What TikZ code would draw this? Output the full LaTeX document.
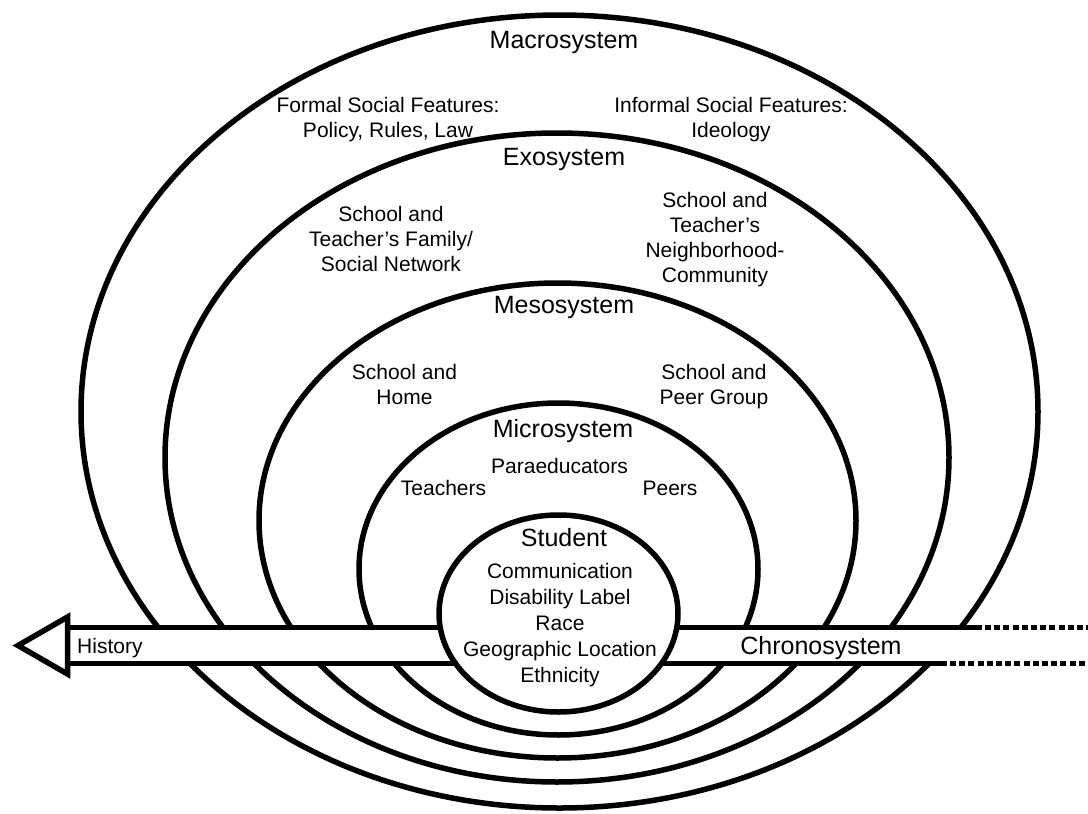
\documentclass[tikz,border=0pt]{standalone}
\usepackage{fontspec}
\setmainfont{Liberation Sans}
\usetikzlibrary{shapes.geometric}
\begin{document}
\begin{tikzpicture}[x=1pt,y=-1pt,
  ring/.style={draw, ellipse, line width=5.5pt, inner sep=0pt, outer sep=0pt},
  head/.style={font=\fontsize{25}{30}\selectfont, anchor=base, inner sep=0pt},
  lbl/.style={font=\fontsize{21}{25}\selectfont, align=center, anchor=base, inner sep=0pt},
  bandline/.style={line width=5pt},
  dashline/.style={line width=5pt, dash pattern=on 6pt off 3.2pt}]
\fill[white] (0,0) rectangle (1088,814);
\useasboundingbox (0,0) rectangle (1088,814);
% system rings
\node[ring, minimum width=957pt, minimum height=793pt] (macro) at (559.5,411.5) {};
\node[ring, minimum width=784pt, minimum height=649pt] (exo) at (557,457.5) {};
\node[ring, minimum width=597pt, minimum height=475pt] (meso) at (557.5,520.5) {};
\node[ring, minimum width=399pt, minimum height=332pt] (micro) at (558.5,569) {};
% chronosystem band
\coordinate (bandUL) at (67.5,627);
\coordinate (bandLL) at (67.5,663);
\coordinate (bandUR) at (982,627);
\coordinate (bandLR) at (947,663);
\coordinate (dashUS) at (985,627);
\coordinate (dashLS) at (950,663);
\coordinate (dashUE) at (1088,627);
\coordinate (dashLE) at (1088,663);
\fill[white] (bandUL) rectangle (dashLE);
\draw[bandline] (bandUL) -- (bandUR);
\draw[bandline] (bandLL) -- (bandLR);
\draw[dashline] (dashUS) -- (dashUE);
\draw[dashline] (dashLS) -- (dashLE);
% student
\node[ring, fill=white, minimum width=239pt, minimum height=197pt] (student) at (558.5,613.5) {};
% arrow head
\coordinate (tip) at (18,645.5);
\coordinate (backT) at (67.5,617);
\coordinate (backB) at (67.5,674);
\draw[line width=5.5pt, fill=white, line join=miter] (tip) -- (backT) -- (backB) -- cycle;
% texts (multi-line nodes: base = baseline of last line)
\node[head] (tmacro) at (564,48) {Macrosystem};
\node[lbl] (formal) at (388,137) {Formal Social Features:\\Policy, Rules, Law};
\node[lbl] (informal) at (731,137) {Informal Social Features:\\Ideology};
\node[head] (texo) at (564,165) {Exosystem};
\node[lbl] (family) at (391,271) {School and\\Teacher’s Family/\\Social Network};
\node[lbl] (neigh) at (715,282) {School and\\Teacher’s\\Neighborhood-\\Community};
\node[head] (tmeso) at (564,313) {Mesosystem};
\node[lbl] (home) at (404.5,404) {School and\\Home};
\node[lbl] (peergroup) at (714,404) {School and\\Peer Group};
\node[head] (tmicro) at (563,437) {Microsystem};
\node[lbl] (para) at (559.5,473) {Paraeducators};
\node[lbl] (teachers) at (443.5,495) {Teachers};
\node[lbl] (peers) at (670,495) {Peers};
\node[head] (tstudent) at (564,546) {Student};
\node[lbl, font=\fontsize{21}{26}\selectfont] (traits) at (560,682) {Communication\\Disability Label\\Race\\Geographic Location\\Ethnicity};
\node[lbl, anchor=base west] (history) at (77,653) {History};
\node[head] (chrono) at (821,654) {Chronosystem};
\end{tikzpicture}
\end{document}
